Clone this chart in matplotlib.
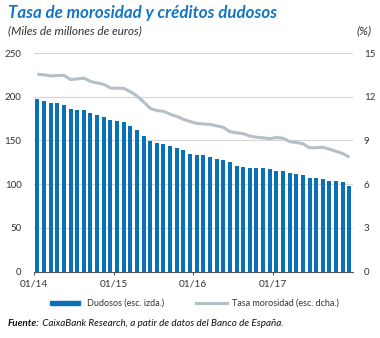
import matplotlib.pyplot as plt
import numpy as np
from matplotlib.patches import Rectangle
from matplotlib.lines import Line2D

plt.rcParams['font.family'] = ['Lato', 'DejaVu Sans']

# Monthly data, 01/2014 - 12/2017
dudosos = [197.4, 195.4, 193.0, 192.4, 190.0, 186.0, 184.8, 184.8, 181.3, 178.7, 176.8, 173.0,
           172.2, 171.0, 166.5, 162.0, 154.7, 149.7, 147.0, 146.0, 143.2, 141.0, 139.0, 134.6,
           133.7, 133.3, 131.0, 128.7, 127.6, 125.6, 121.0, 119.6, 118.8, 118.0, 118.0, 117.0,
           115.4, 115.0, 112.3, 111.6, 110.4, 106.6, 106.6, 105.5, 103.5, 103.2, 102.4, 98.2]
tasa = [13.55, 13.50, 13.43, 13.45, 13.47, 13.18, 13.22, 13.28, 13.05, 12.95, 12.85, 12.60,
        12.58, 12.58, 12.35, 12.05, 11.65, 11.20, 11.05, 11.00, 10.80, 10.65, 10.45, 10.30,
        10.17, 10.13, 10.10, 10.00, 9.90, 9.60, 9.52, 9.47, 9.30, 9.22, 9.18, 9.12,
        9.20, 9.15, 8.92, 8.86, 8.77, 8.50, 8.50, 8.53, 8.40, 8.25, 8.10, 7.85]
year_labels = ['01/14', '01/15', '01/16', '01/17']
left_ticks = [0, 50, 100, 150, 200, 250]
right_ticks = [0, 3, 6, 9, 12, 15]

blue = '#0A70B8'
grey_line = '#B4C0C6'
title_blue = '#1476C0'
text_col = '#333333'

fig = plt.figure(figsize=(3.8, 3.38), dpi=100)
ax = fig.add_axes([0.0895, 0.1967, 0.8387, 0.6464])
ax2 = ax.twinx()

x = np.arange(len(dudosos))
ax.bar(x + 0.5, dudosos, width=0.6, color=blue, zorder=3)
ax2.plot(x + 0.5, tasa, color=grey_line, lw=2.2, solid_capstyle='butt', zorder=3)

ax.set_xlim(0, len(dudosos))
ax.set_ylim(0, 250)
ax2.set_ylim(0, 15)
ax.set_yticks(left_ticks)
ax2.set_yticks(right_ticks)
ax.set_xticks(np.arange(0, len(dudosos), 12))
ax.set_xticklabels(year_labels)

ax.grid(axis='y', color='#D5D5D5', lw=0.8, zorder=0)
ax.set_axisbelow(True)
for a in (ax, ax2):
    for s in a.spines.values():
        s.set_visible(False)
ax.spines['bottom'].set_visible(True)
ax.spines['bottom'].set_color('#555555')
ax.spines['bottom'].set_linewidth(0.8)
ax.tick_params(axis='y', length=0, pad=9, labelsize=7, labelcolor=text_col)
ax2.tick_params(axis='y', length=0, pad=8, labelsize=7, labelcolor=text_col)
ax.tick_params(axis='x', length=2, width=0.8, color='#555555', pad=4, labelsize=7.3, labelcolor=text_col)

# Titles
fig.text(0.021, 0.963, 'Tasa de morosidad y créditos dudosos', color=title_blue,
         fontsize=12.2, fontweight='bold', fontstyle='italic', va='center', ha='left')
fig.text(0.021, 0.908, '(Miles de millones de euros)', color=text_col,
         fontsize=8.6, fontstyle='italic', va='center', ha='left')
fig.text(0.978, 0.908, '(%)', color=text_col,
         fontsize=8.6, fontstyle='italic', va='center', ha='right')

# Legend
ly = 1 - 303 / 338
fig.add_artist(Rectangle((50 / 380, ly - 0.006), 30 / 380, 0.012,
                         transform=fig.transFigure, color=blue))
fig.text(87 / 380, ly, 'Dudosos (esc. izda.)', fontsize=6.5, color=text_col, va='center')
fig.add_artist(Line2D([196 / 380, 227 / 380], [ly, ly], transform=fig.transFigure,
                      color=grey_line, lw=2.2))
fig.text(232 / 380, ly, 'Tasa morosidad (esc. dcha.)', fontsize=6.5, color=text_col, va='center')

# Source
t1 = fig.text(0.021, 1 - 323 / 338, 'Fuente:', fontsize=7.1, fontweight='bold',
              fontstyle='italic', color='#111111', va='center')
ax.annotate(' CaixaBank Research, a patir de datos del Banco de España.', xy=(1, 0.5),
            xycoords=t1, va='center', ha='left', fontsize=7.1, fontstyle='italic',
            color='#111111', annotation_clip=False)

fig.savefig('out.png', dpi=100)
